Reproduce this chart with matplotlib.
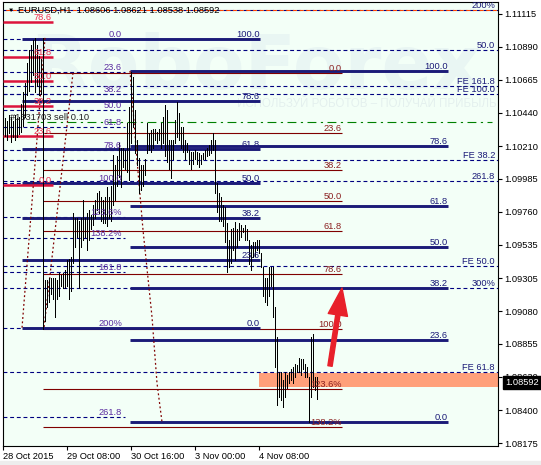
import matplotlib.pyplot as plt
import matplotlib.transforms as mtransforms
from matplotlib.patches import Rectangle
import numpy as np

plt.rcParams['font.family'] = ['Liberation Sans', 'DejaVu Sans']

# H1 bars, high / low, from 28 Oct 2015 00:00 onwards
high = [1.1040, 1.1038, 1.1042, 1.1041, 1.1038, 1.1042, 1.1040, 1.1041, 1.1050, 1.1058,
        1.1064, 1.1078, 1.1087, 1.1090, 1.1094, 1.1095, 1.1090, 1.1083, 1.1081, 1.1095,
        1.0929, 1.0929, 1.0931, 1.0931, 1.0931, 1.0931, 1.0929, 1.0934, 1.0933, 1.0934,
        1.0936, 1.0943, 1.0944, 1.0945, 1.0975, 1.0972, 1.0972, 1.0970, 1.0972, 1.0984,
        1.0972, 1.0975, 1.0977, 1.0974, 1.0981, 1.0984, 1.0989, 1.0990, 1.0986, 1.0984,
        1.0986, 1.0993, 1.0986, 1.0994, 1.1015, 1.1008, 1.1014, 1.1023, 1.1020, 1.1020,
        1.1018, 1.1037, 1.1048, 1.1072, 1.1068, 1.1046, 1.1025, 1.1013, 1.1008, 1.1008,
        1.1012, 1.1037, 1.1030, 1.1032, 1.1033, 1.1033, 1.1031, 1.1033, 1.1037, 1.1041,
        1.1049, 1.1046, 1.1025, 1.1025, 1.1025, 1.1039, 1.1051, 1.1044, 1.1034, 1.1034,
        1.1025, 1.1023, 1.1018, 1.1017, 1.1017, 1.1018, 1.1017, 1.1016, 1.1015, 1.1016,
        1.1018, 1.1020, 1.1022, 1.1025, 1.1030, 1.1025, 1.0996, 1.0989, 1.0986, 1.0981,
        1.0979, 1.0968, 1.0957, 1.0964, 1.0965, 1.0969, 1.0964, 1.0968, 1.0967, 1.0965,
        1.0967, 1.0964, 1.0957, 1.0953, 1.0955, 1.0955, 1.0957, 1.0957, 1.0948, 1.0938,
        1.0931, 1.0931, 1.0938, 1.0938, 1.0938, 1.0911, 1.0890, 1.0866, 1.0866, 1.0861,
        1.0866, 1.0864, 1.0866, 1.0868, 1.0870, 1.0872, 1.0871, 1.0876, 1.0875, 1.0875,
        1.0872, 1.0870, 1.0863, 1.0890, 1.0892, 1.0863, 1.0863]
low = [1.1028, 1.1025, 1.1030, 1.1024, 1.1027, 1.1025, 1.1027, 1.1029, 1.1031, 1.1035,
       1.1041, 1.1056, 1.1059, 1.1065, 1.1070, 1.1058, 1.1062, 1.1056, 1.1057, 1.0896,
       1.0901, 1.0911, 1.0914, 1.0920, 1.0916, 1.0904, 1.0916, 1.0918, 1.0925, 1.0924,
       1.0924, 1.0925, 1.0916, 1.0922, 1.0941, 1.0952, 1.0959, 1.0924, 1.0952, 1.0957,
       1.0959, 1.0950, 1.0957, 1.0964, 1.0967, 1.0972, 1.0977, 1.0975, 1.0970, 1.0968,
       1.0968, 1.0966, 1.0972, 1.0970, 1.0981, 1.0984, 1.0994, 1.1000, 1.0993, 1.1007,
       1.1005, 1.1003, 1.0998, 1.1023, 1.1034, 1.1016, 1.1008, 1.0989, 1.0991, 1.0994,
       1.1001, 1.1016, 1.1018, 1.1017, 1.1020, 1.1025, 1.1023, 1.1025, 1.1020, 1.1023,
       1.1014, 1.1010, 1.1005, 1.0999, 1.1012, 1.1023, 1.1027, 1.1025, 1.1020, 1.1017,
       1.1012, 1.1017, 1.1009, 1.1005, 1.1009, 1.1012, 1.1009, 1.1007, 1.1009, 1.1012,
       1.1012, 1.1014, 1.1015, 1.1016, 1.1018, 1.0989, 1.0976, 1.0970, 1.0970, 1.0966,
       1.0955, 1.0935, 1.0938, 1.0941, 1.0950, 1.0943, 1.0952, 1.0957, 1.0959, 1.0962,
       1.0957, 1.0957, 1.0940, 1.0936, 1.0945, 1.0946, 1.0950, 1.0948, 1.0938, 1.0918,
       1.0914, 1.0912, 1.0918, 1.0925, 1.0904, 1.0870, 1.0844, 1.0849, 1.0847, 1.0842,
       1.0849, 1.0855, 1.0859, 1.0861, 1.0859, 1.0863, 1.0866, 1.0866, 1.0864, 1.0868,
       1.0863, 1.0863, 1.0832, 1.0849, 1.0856, 1.0854, 1.0848]
last_price = 1.08592

time_ticks = [0, 32, 64, 96, 128]
time_labels = ['28 Oct 2015', '29 Oct 08:00', '30 Oct 16:00', '3 Nov 00:00', '4 Nov 08:00']
price_ticks = [1.11115, 1.10890, 1.10665, 1.10440, 1.10210, 1.09985, 1.09760,
               1.09535, 1.09305, 1.09080, 1.08855, 1.08630, 1.08400, 1.08175]
price_labels = ['%.5f' % p for p in price_ticks]

# fibonacci objects (levels in price, x range in bars)
red_levels = [1.11060, 1.10821, 1.10656, 1.10485, 1.10279, 1.09944]
red_labels = ['78.6', '61.8', '50.0', '38.2', '23.6', '0.0']
red_span = (0, 25)

a_levels = [1.10944, 1.10718, 1.10567, 1.10458, 1.10341, 1.10184, 1.09957,
            1.09725, 1.09581, 1.09348, 1.08964, 1.08355]
a_labels = ['0.0', '23.6', '38.2', '50.0', '61.8', '78.6', '100.0',
            '123.6%', '138.2%', '161.8', '200%', '261.8']
a_span = (0, 61)

b_levels = [1.10944, 1.10519, 1.10190, 1.09954, 1.09718, 1.09430, 1.08964]
b_labels = ['100.0', '78.6', '61.8', '50.0', '38.2', '23.6', '0.0']
b_span = (9.5, 128.5)

c_levels = [1.10725, 1.10211, 1.09800, 1.09519, 1.09238, 1.08882, 1.08320]
c_labels = ['100.0', '78.6', '61.8', '50.0', '38.2', '23.6', '0.0']
c_span = (63.5, 222.5)

d_levels = [1.10711, 1.10300, 1.10047, 1.09834, 1.09629, 1.09334, 1.08957, 1.08546, 1.08286]
d_labels = ['0.0', '23.6', '38.2', '50.0', '61.8', '78.6', '100.0', '123.6%', '138.2%']
d_span = (20, 169.5)

fe_levels = [1.11143, 1.10869, 1.10622, 1.10567, 1.10115, 1.09971, 1.09389, 1.09238, 1.08663]
fe_labels = ['200%', '50.0', 'FE 161.8', 'FE 100.0', 'FE 38.2', '261.8', 'FE 50.0', '300%', 'FE 61.8']
fe_span = (0, 247.5)

order_price = 1.10375
order_span = (12, 244.5)
zone = (128, 247.5, 1.08560, 1.08656)

# dotted trend lines (bar, price)
trend1 = ([21, 9.5], [1.10951, 1.08964])
trend2 = ([35, 20.5], [1.10711, 1.08964])
trend3 = ([63.5, 67, 70, 74.5, 77, 79.5], [1.10725, 1.10115, 1.09636, 1.09040, 1.08587, 1.08320])
arrow_from = (163.5, 1.08704)
arrow_to = (169.5, 1.09238)

fig = plt.figure(figsize=(5.41, 4.65), dpi=100)
fig.patches.append(Rectangle((0, 0), 1, 4 / 465, transform=fig.transFigure,
                             color='#EDEDED', zorder=0))
ax = fig.add_axes([3 / 541, 19 / 465, 495 / 541, 444 / 465])
ax.set_facecolor('#F3FFF7')
ax.set_xlim(0, 247.5)
ax.set_ylim(1.08156, 1.11197)

# watermark
ax.text(0.055, 0.85, 'RoboForex', transform=ax.transAxes, fontsize=54, fontweight='bold',
        family='DejaVu Sans', color='#E9F6F3', va='center', ha='left', zorder=0.5)
ax.text(0.473, 0.770, 'ИСПОЛЬЗУЙ РОБОТОВ – ПОЛУЧАЙ ПРИБЫЛЬ', transform=ax.transAxes,
        fontsize=8.3, color='#E4F0EE', va='center', ha='left', zorder=0.5)

dash = (0, (3.5, 2.5))
fs = 6.7

ax.add_patch(Rectangle((zone[0], zone[2]), zone[1] - zone[0], zone[3] - zone[2],
                       facecolor='#FFA07A', edgecolor='none', zorder=1.5))

# full width dashed levels
ax.hlines(fe_levels, *fe_span, colors='#000080', linestyles=dash, lw=0.8, zorder=2)
ax.hlines(fe_levels[0], *fe_span, colors='#FF4500', linestyles=(3.5, (3.5, 2.5)), lw=0.8, zorder=2)
for lv, lb in zip(fe_levels, fe_labels):
    ax.text(246, lv, lb, ha='right', va='bottom', fontsize=fs, color='#1B1B78', zorder=6, clip_on=True)

# set A
ax.hlines(a_levels, *a_span, colors='#000080', linestyles=dash, lw=0.8, zorder=2)
for lv, lb in zip(a_levels, a_labels):
    ax.text(a_span[1] - 1.5, lv, lb, ha='right', va='bottom', fontsize=fs, color='#5B2DA0', zorder=6)

# order line
ax.hlines(order_price, *order_span, colors='#008000', linestyles=(0, (8, 4, 2, 4)), lw=0.8, zorder=2)
ax.text(3.5, order_price, '#1331703 sell 0.10', ha='left', va='bottom', fontsize=fs,
        color='#202020', zorder=6)

# set D (brown)
ax.hlines(d_levels, *d_span, colors='#800000', lw=0.8, zorder=2.5)
for lv, lb in zip(d_levels, d_labels):
    ax.text(d_span[1], lv, lb, ha='right', va='bottom', fontsize=fs, color='#8B2020', zorder=6)

# sets B and C (navy thick)
for levels, labels, span in [(b_levels, b_labels, b_span), (c_levels, c_labels, c_span)]:
    ax.hlines(levels, *span, colors='#1B1B78', lw=2.1, zorder=3)
    for lv, lb in zip(levels, labels):
        ax.text(span[1], lv, lb, ha='right', va='bottom', fontsize=fs, color='#1B1B78', zorder=6)

# red fibo
ax.hlines(red_levels, *red_span, colors='#DC143C', lw=1.8, zorder=3)
for lv, lb in zip(red_levels, red_labels):
    ax.text(red_span[1] - 0.5, lv, lb, ha='right', va='bottom', fontsize=fs, color='#F03050', zorder=6)

# dotted trend lines
for xs, ys in [trend1, trend2, trend3]:
    ax.plot(xs, ys, color='#800000', lw=0.9, linestyle=(0, (1.5, 2)), zorder=3.5)

# bars
idx = np.arange(1, len(high) + 1)
ax.vlines(idx, low, high, colors='black', lw=0.72, antialiased=False, zorder=5)

ax.annotate('', xy=arrow_to, xytext=arrow_from, zorder=7,
            arrowprops=dict(arrowstyle='simple,head_length=1.4,head_width=1.0,tail_width=0.22',
                            mutation_scale=14, color='#E8202A', shrinkA=0, shrinkB=0))

# axes
ax.yaxis.tick_right()
ax.set_yticks(price_ticks)
ax.set_yticklabels(price_labels)
ax.set_xticks(time_ticks)
ax.set_xticklabels(time_labels)
for lbl in ax.get_xticklabels():
    lbl.set_ha('left')
ax.tick_params(axis='both', labelsize=fs, length=3, width=0.8, pad=1.5, colors='black')
for s in ax.spines.values():
    s.set_linewidth(0.8)
    s.set_color('black')

trans = mtransforms.blended_transform_factory(ax.transAxes, ax.transData)
ax.text(505 / 495 - 3 / 495, last_price, '%.5f' % last_price, transform=trans, fontsize=fs,
        color='white', va='center', ha='left', zorder=8, clip_on=False,
        bbox=dict(facecolor='black', edgecolor='black', pad=1.6))

fig.text(8 / 541, 1 - 10 / 465, '\u25bc', fontsize=4.5, color='black', va='center', ha='left')
fig.text(18 / 541, 1 - 10 / 465, 'EURUSD,H1  1.08606 1.08621 1.08538 1.08592',
         fontsize=fs, color='black', va='center', ha='left')

fig.savefig('out.png', dpi=100)
